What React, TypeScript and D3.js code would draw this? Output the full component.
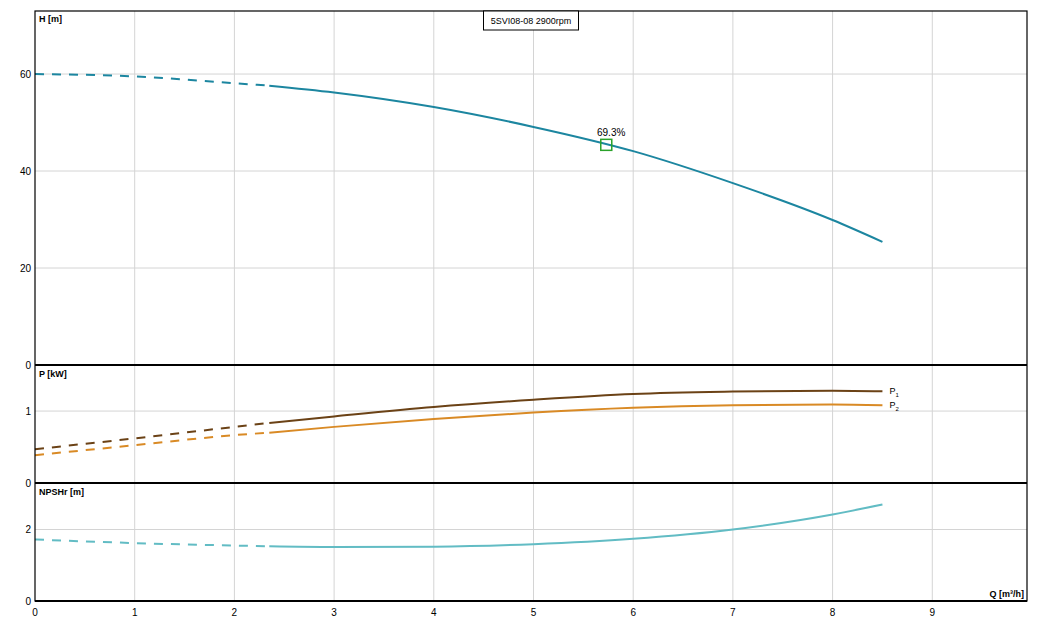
import React from 'react';
import * as d3 from 'd3';

// flow points (m³/h) shared by every curve; first 4 points are drawn dashed
const flow = [0, 1, 2, 2.35, 3, 4, 5, 6, 7, 8, 8.5];
const dashedUpTo = 3;
const head = [60, 59.5, 58.1, 57.6, 56.2, 53.2, 49.1, 44.1, 37.5, 29.9, 25.4];
const powerP1 = [0.47, 0.62, 0.78, 0.835, 0.925, 1.056, 1.157, 1.237, 1.27, 1.283, 1.275];
const powerP2 = [0.386, 0.526, 0.665, 0.7, 0.78, 0.89, 0.98, 1.046, 1.08, 1.09, 1.08];
const npshr = [1.72, 1.62, 1.55, 1.53, 1.51, 1.52, 1.59, 1.74, 2.0, 2.42, 2.7];

const xTicks = [0, 1, 2, 3, 4, 5, 6, 7, 8, 9];
const headTicks = [0, 20, 40, 60];
const powerTicks = [0, 1];
const npshTicks = [0, 2];

const bepFlow = 5.73;
const bepHead = 45.4;
const bepLabel = '69.3%';
const title = '5SVI08-08 2900rpm';

const W = 1046;
const H = 621;
const left = 35;
const right = 1027;
const top = 11;
const sep1 = 365;
const sep2 = 483;
const bottom = 601;

const font = '"Liberation Sans", Arial, sans-serif';

const x = d3.scaleLinear().domain([0, 9.95]).range([left, right]);
const yH = d3.scaleLinear().domain([0, 73]).range([sep1, top]);
const yP = d3.scaleLinear().domain([0, 1.64]).range([sep2, sep1]);
const yN = d3.scaleLinear().domain([0, 3.3]).range([bottom, sep2]);

type Pt = [number, number];

function curve(vals: number[], y: d3.ScaleLinear<number, number>) {
  const pts: Pt[] = flow.map((q, i) => [q, vals[i]]);
  const line = d3
    .line<Pt>()
    .x((d) => x(d[0]))
    .y((d) => y(d[1]))
    .curve(d3.curveMonotoneX);
  return {
    dashed: line(pts.slice(0, dashedUpTo + 1)) || '',
    solid: line(pts.slice(dashedUpTo)) || '',
  };
}

const Series = ({ vals, y, color }: { vals: number[]; y: d3.ScaleLinear<number, number>; color: string }) => {
  const c = curve(vals, y);
  return (
    <g fill="none" stroke={color} strokeWidth={2}>
      <path d={c.dashed} strokeDasharray="9,8" />
      <path d={c.solid} />
    </g>
  );
};

const YTicks = ({ ticks, y }: { ticks: number[]; y: d3.ScaleLinear<number, number> }) => (
  <g>
    {ticks.map((t) => (
      <g key={t}>
        {t !== 0 && <line x1={left} x2={right} y1={y(t)} y2={y(t)} stroke="#d4d4d4" />}
        <text x={31} y={y(t)} dy="0.35em" textAnchor="end" fontSize={10}>
          {t}
        </text>
      </g>
    ))}
  </g>
);

export default function App() {
  const p1 = powerP1[powerP1.length - 1];
  const p2 = powerP2[powerP2.length - 1];
  const qEnd = flow[flow.length - 1];
  return (
    <svg
      width={W}
      height={H}
      viewBox={`0 0 ${W} ${H}`}
      style={{ position: 'absolute', left: 0, top: 0, background: '#fff' }}
      fontFamily={font}
    >
      <rect x={0} y={0} width={W} height={H} fill="#fff" />
      {/* vertical grid */}
      {xTicks.slice(1).map((t) => (
        <line key={t} x1={x(t)} x2={x(t)} y1={top} y2={bottom} stroke="#d4d4d4" />
      ))}
      <YTicks ticks={headTicks} y={yH} />
      <YTicks ticks={powerTicks} y={yP} />
      <YTicks ticks={npshTicks} y={yN} />

      {xTicks.map((t) => (
        <text key={t} x={x(t)} y={612} dy="0.35em" textAnchor="middle" fontSize={10}>
          {t}
        </text>
      ))}

      <Series vals={head} y={yH} color="#1c86a0" />
      <Series vals={powerP1} y={yP} color="#6b4216" />
      <Series vals={powerP2} y={yP} color="#d98a25" />
      <Series vals={npshr} y={yN} color="#62bcc4" />

      {/* best efficiency point */}
      <rect
        x={x(bepFlow) - 5.5}
        y={yH(bepHead) - 5.5}
        width={11}
        height={11}
        fill="none"
        stroke="#2aa22a"
        strokeWidth={1.5}
      />
      <text x={597} y={yH(bepHead) - 9} fontSize={10}>
        {bepLabel}
      </text>

      {/* curve labels */}
      <text x={x(qEnd) + 7} y={yP(p1) + 3} fontSize={9}>
        P<tspan fontSize={6} dy={3}>1</tspan>
      </text>
      <text x={x(qEnd) + 7} y={yP(p2) + 3} fontSize={9}>
        P<tspan fontSize={6} dy={3}>2</tspan>
      </text>

      {/* frame */}
      <rect x={left} y={top} width={right - left} height={bottom - top} fill="none" stroke="#000" strokeWidth={1.2} />
      <line x1={left} x2={right} y1={sep1} y2={sep1} stroke="#000" strokeWidth={2} />
      <line x1={left} x2={right} y1={sep2} y2={sep2} stroke="#000" strokeWidth={2} />
      <line x1={left} x2={right} y1={bottom} y2={bottom} stroke="#000" strokeWidth={1.8} />

      {/* axis titles */}
      <g fontSize={9} fontWeight="bold">
        <text x={39} y={22}>H [m]</text>
        <text x={39} y={377}>P [kW]</text>
        <text x={39} y={495}>NPSHr [m]</text>
        <text x={1024} y={597} textAnchor="end">Q [m³/h]</text>
      </g>

      {/* title box */}
      <rect x={483.5} y={11} width={95} height={19} fill="#fff" stroke="#000" />
      <text x={531} y={21} dy="0.35em" textAnchor="middle" fontSize={9}>
        {title}
      </text>
    </svg>
  );
}
